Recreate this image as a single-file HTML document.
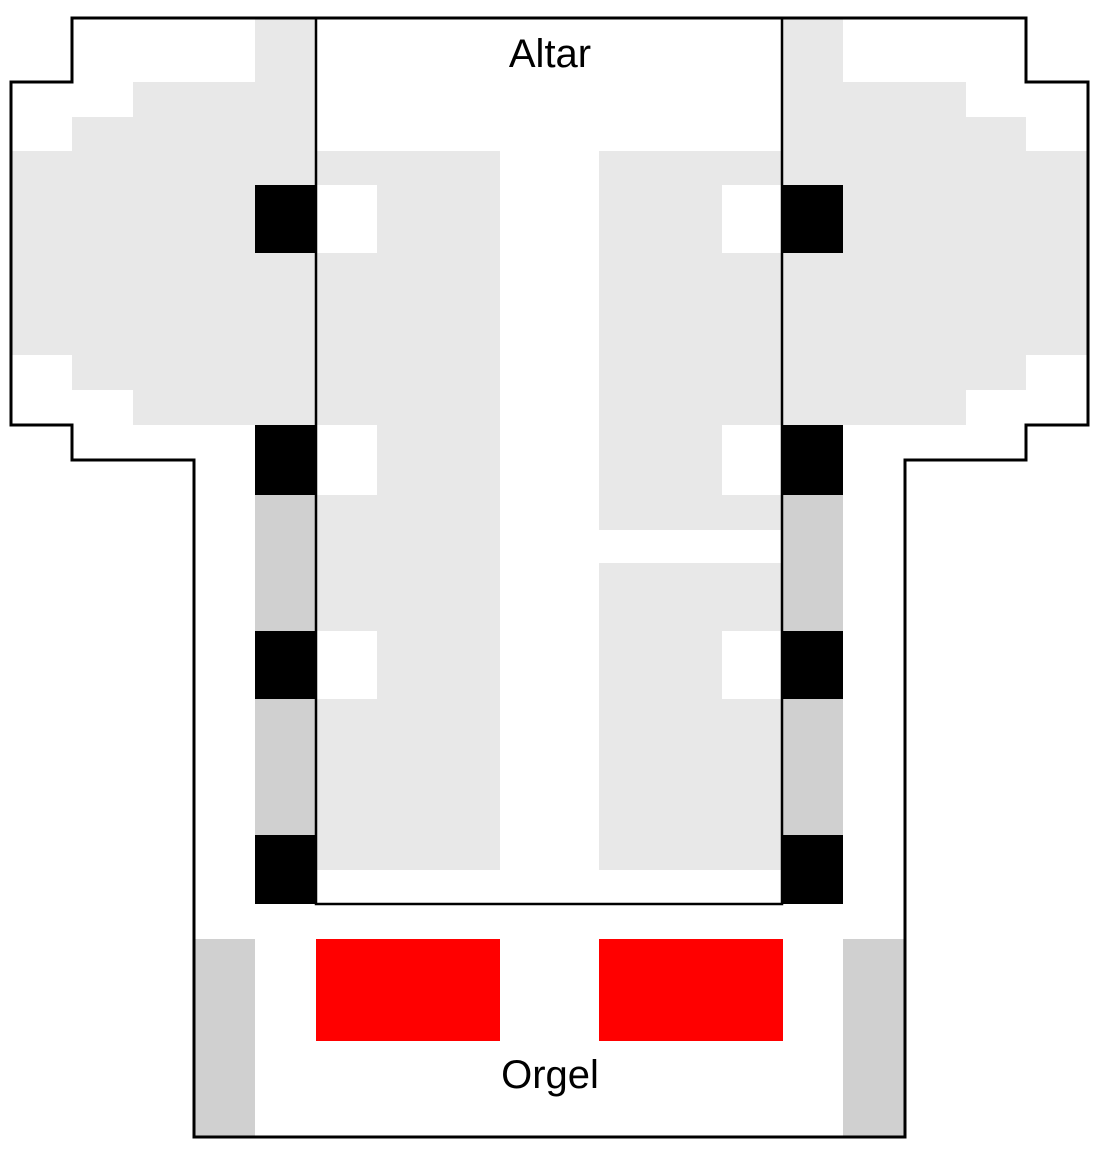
<!DOCTYPE html>
<html><head><meta charset="utf-8"><style>html,body{margin:0;padding:0;background:#fff}svg{display:block}</style></head>
<body>
<svg width="1114" height="1165" viewBox="0 0 1114 1165" xmlns="http://www.w3.org/2000/svg">
<rect width="1114" height="1165" fill="#fff"/>
<g fill="#e8e8e8">
<rect x="255" y="18" width="61" height="407"/>
<rect x="133" y="82" width="122" height="343"/>
<rect x="72" y="117" width="61" height="273"/>
<rect x="11" y="151" width="61" height="204"/>
<rect x="782" y="18" width="61" height="407"/>
<rect x="843" y="82" width="123" height="343"/>
<rect x="966" y="117" width="60" height="273"/>
<rect x="1026" y="151" width="62" height="204"/>
<rect x="316" y="151" width="184" height="719"/>
<rect x="599" y="151" width="183" height="379"/>
<rect x="599" y="563" width="183" height="307"/>
</g>
<g fill="#fff">
<rect x="316" y="185" width="61" height="68"/>
<rect x="316" y="425" width="61" height="70"/>
<rect x="316" y="631" width="61" height="68"/>
<rect x="722" y="185" width="60" height="68"/>
<rect x="722" y="425" width="60" height="70"/>
<rect x="722" y="631" width="60" height="68"/>
</g>
<g fill="#d0d0d0">
<rect x="255" y="495" width="61" height="136"/>
<rect x="255" y="699" width="61" height="136"/>
<rect x="782" y="495" width="61" height="136"/>
<rect x="782" y="699" width="61" height="136"/>
<rect x="194" y="939" width="61" height="198"/>
<rect x="843" y="939" width="62" height="198"/>
</g>
<g fill="#000">
<rect x="255" y="185" width="61" height="68"/>
<rect x="255" y="425" width="61" height="70"/>
<rect x="255" y="631" width="61" height="68"/>
<rect x="255" y="835" width="61" height="69"/>
<rect x="782" y="185" width="61" height="68"/>
<rect x="782" y="425" width="61" height="70"/>
<rect x="782" y="631" width="61" height="68"/>
<rect x="782" y="835" width="61" height="69"/>
</g>
<g fill="#ff0000">
<rect x="316" y="939" width="184" height="102"/>
<rect x="599" y="939" width="184" height="102"/>
</g>
<polygon points="72,18 1026,18 1026,82 1088,82 1088,425 1026,425 1026,460 905,460 905,1137 194,1137 194,460 72,460 72,425 11,425 11,82 72,82" fill="none" stroke="#000" stroke-width="3"/>
<rect x="316" y="18" width="466" height="886" fill="none" stroke="#000" stroke-width="2.5"/>
<text x="550" y="67" text-anchor="middle" font-family="Liberation Sans, sans-serif" font-size="40">Altar</text>
<text x="550" y="1088" text-anchor="middle" font-family="Liberation Sans, sans-serif" font-size="40">Orgel</text>
</svg>
</body></html>
